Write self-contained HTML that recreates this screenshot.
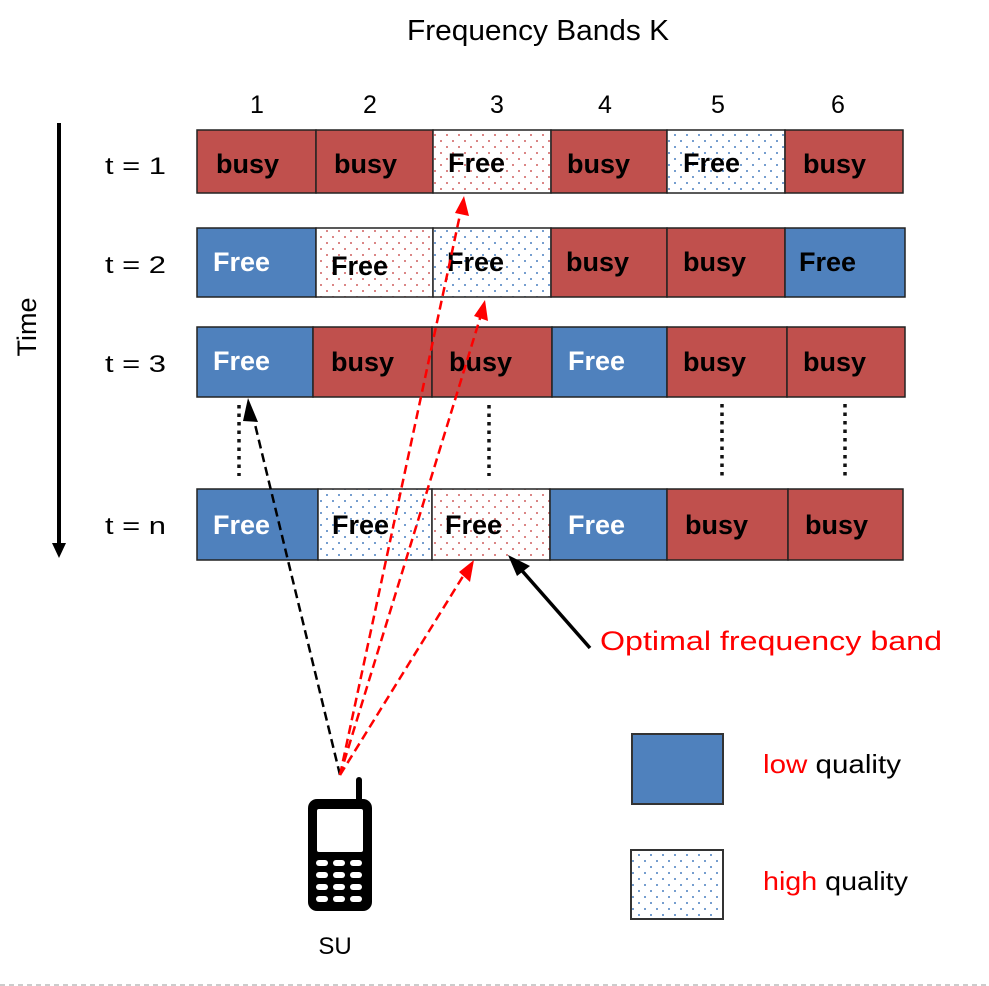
<!DOCTYPE html>
<html><head><meta charset="utf-8"><style>
html,body{margin:0;padding:0;background:#fff;}
svg{display:block;font-family:"Liberation Sans",sans-serif;}
</style></head><body>
<svg width="989" height="986" viewBox="0 0 989 986" xmlns="http://www.w3.org/2000/svg">
<defs>
<pattern id="pr" width="12" height="12" patternUnits="userSpaceOnUse"><rect width="12" height="12" fill="#fff"/><circle cx="3" cy="3" r="1" fill="#d06060"/><circle cx="9" cy="9" r="1" fill="#d06060"/></pattern>
<pattern id="pb" width="12" height="12" patternUnits="userSpaceOnUse"><rect width="12" height="12" fill="#fff"/><circle cx="3" cy="3" r="1" fill="#4a7fc0"/><circle cx="9" cy="9" r="1" fill="#4a7fc0"/></pattern>
</defs>
<text x="538" y="40" font-size="29" text-anchor="middle" textLength="262" lengthAdjust="spacingAndGlyphs">Frequency Bands K</text>
<g font-size="25" text-anchor="middle">
<text x="257" y="113">1</text><text x="370" y="113">2</text><text x="497" y="113">3</text><text x="605" y="113">4</text><text x="718" y="113">5</text><text x="838" y="113">6</text>
</g>
<line x1="59" y1="123" x2="59" y2="545" stroke="#000" stroke-width="4"/>
<path d="M52,543 L66,543 L59,558 z" fill="#000"/>
<text transform="translate(36,327) rotate(-90)" font-size="27" text-anchor="middle">Time</text>
<g font-size="24">
<text x="105" y="174" textLength="61" lengthAdjust="spacingAndGlyphs">t = 1</text><text x="105" y="273" textLength="61" lengthAdjust="spacingAndGlyphs">t = 2</text><text x="105" y="372" textLength="61" lengthAdjust="spacingAndGlyphs">t = 3</text><text x="105" y="534" textLength="61" lengthAdjust="spacingAndGlyphs">t = n</text>
</g>
<g stroke="#222" stroke-width="1.5">
<rect x="197" y="130" width="119" height="63" fill="#c0504d"/>
<rect x="316" y="130" width="117" height="63" fill="#c0504d"/>
<rect x="433" y="130" width="118" height="63" fill="url(#pr)"/>
<rect x="551" y="130" width="116" height="63" fill="#c0504d"/>
<rect x="667" y="130" width="118" height="63" fill="url(#pb)"/>
<rect x="785" y="130" width="118" height="63" fill="#c0504d"/>
<rect x="197" y="228" width="119" height="69" fill="#4f81bd"/>
<rect x="316" y="228" width="117" height="69" fill="url(#pr)"/>
<rect x="433" y="228" width="118" height="69" fill="url(#pb)"/>
<rect x="551" y="228" width="116" height="69" fill="#c0504d"/>
<rect x="667" y="228" width="118" height="69" fill="#c0504d"/>
<rect x="785" y="228" width="120" height="69" fill="#4f81bd"/>
<rect x="197" y="327" width="116" height="70" fill="#4f81bd"/>
<rect x="313" y="327" width="119" height="70" fill="#c0504d"/>
<rect x="432" y="327" width="120" height="70" fill="#c0504d"/>
<rect x="552" y="327" width="115" height="70" fill="#4f81bd"/>
<rect x="667" y="327" width="120" height="70" fill="#c0504d"/>
<rect x="787" y="327" width="118" height="70" fill="#c0504d"/>
<rect x="197" y="489" width="121" height="71" fill="#4f81bd"/>
<rect x="318" y="489" width="114" height="71" fill="url(#pb)"/>
<rect x="432" y="489" width="118" height="71" fill="url(#pr)"/>
<rect x="550" y="489" width="117" height="71" fill="#4f81bd"/>
<rect x="667" y="489" width="121" height="71" fill="#c0504d"/>
<rect x="788" y="489" width="115" height="71" fill="#c0504d"/>
</g>
<g font-weight="bold" font-size="27">
<text x="216" y="173">busy</text><text x="334" y="173">busy</text><text x="448" y="172">Free</text><text x="567" y="173">busy</text><text x="683" y="172">Free</text><text x="803" y="173">busy</text>
<text x="213" y="271" fill="#fff">Free</text><text x="331" y="275">Free</text><text x="447" y="271">Free</text><text x="566" y="271">busy</text><text x="683" y="271">busy</text><text x="799" y="271">Free</text>
<text x="213" y="370" fill="#fff">Free</text><text x="331" y="371">busy</text><text x="449" y="371">busy</text><text x="568" y="370" fill="#fff">Free</text><text x="683" y="371">busy</text><text x="803" y="371">busy</text>
<text x="213" y="534" fill="#fff">Free</text><text x="332" y="534">Free</text><text x="445" y="534">Free</text><text x="568" y="534" fill="#fff">Free</text><text x="685" y="534">busy</text><text x="805" y="534">busy</text>
</g>
<g stroke="#111" stroke-width="3.5" stroke-dasharray="3.5,5">
<line x1="239" y1="405" x2="239" y2="476"/><line x1="489" y1="405" x2="489" y2="476"/><line x1="722" y1="404" x2="722" y2="476"/><line x1="845" y1="404" x2="845" y2="476"/>
</g>
<line x1="340" y1="775" x2="252" y2="412" stroke="#000" stroke-width="2.5" stroke-dasharray="9,5"/>
<path d="M248,398 L258,422 L243,421 z" fill="#000"/>
<g stroke="#f00" stroke-width="2.5" stroke-dasharray="9,5" fill="none">
<line x1="340" y1="775" x2="461" y2="210"/>
<line x1="340" y1="775" x2="481" y2="315"/>
<line x1="340" y1="775" x2="465" y2="573"/>
</g>
<path d="M464,196 L469,216 L455,213 z" fill="#f00"/>
<path d="M485,300 L488,321 L474,316 z" fill="#f00"/>
<path d="M474,560 L470,582 L459,572 z" fill="#f00"/>
<line x1="590" y1="648" x2="517" y2="565" stroke="#000" stroke-width="3.5"/>
<path d="M508,555 L530,566 L517,576 z" fill="#000"/>
<text x="600" y="650" fill="#f00" font-size="27" textLength="342" lengthAdjust="spacingAndGlyphs">Optimal frequency band</text>
<rect x="632" y="734" width="91" height="70" fill="#4f81bd" stroke="#333" stroke-width="2"/>
<rect x="631" y="850" width="92" height="69" fill="url(#pb)" stroke="#333" stroke-width="2"/>
<text x="763" y="773" font-size="26" textLength="138" lengthAdjust="spacingAndGlyphs"><tspan fill="#f00">low</tspan> quality</text>
<text x="763" y="890" font-size="26" textLength="145" lengthAdjust="spacingAndGlyphs"><tspan fill="#f00">high</tspan> quality</text>
<rect x="356" y="777" width="6" height="28" rx="3" fill="#000"/>
<rect x="308" y="799" width="64" height="112" rx="9" fill="#000"/>
<rect x="317" y="809" width="46" height="43" rx="2" fill="#fff"/>
<g fill="#fff">
<rect x="316" y="860" width="12" height="6" rx="3"/><rect x="333" y="860" width="12" height="6" rx="3"/><rect x="350" y="860" width="12" height="6" rx="3"/>
<rect x="316" y="872" width="12" height="6" rx="3"/><rect x="333" y="872" width="12" height="6" rx="3"/><rect x="350" y="872" width="12" height="6" rx="3"/>
<rect x="316" y="884" width="12" height="6" rx="3"/><rect x="333" y="884" width="12" height="6" rx="3"/><rect x="350" y="884" width="12" height="6" rx="3"/>
<rect x="316" y="896" width="12" height="6" rx="3"/><rect x="333" y="896" width="12" height="6" rx="3"/><rect x="350" y="896" width="12" height="6" rx="3"/>
</g>
<text x="335" y="954" font-size="24" text-anchor="middle">SU</text>
<line x1="0" y1="985" x2="989" y2="985" stroke="#bbb" stroke-width="1.5" stroke-dasharray="5,4"/>
</svg>
</body></html>
